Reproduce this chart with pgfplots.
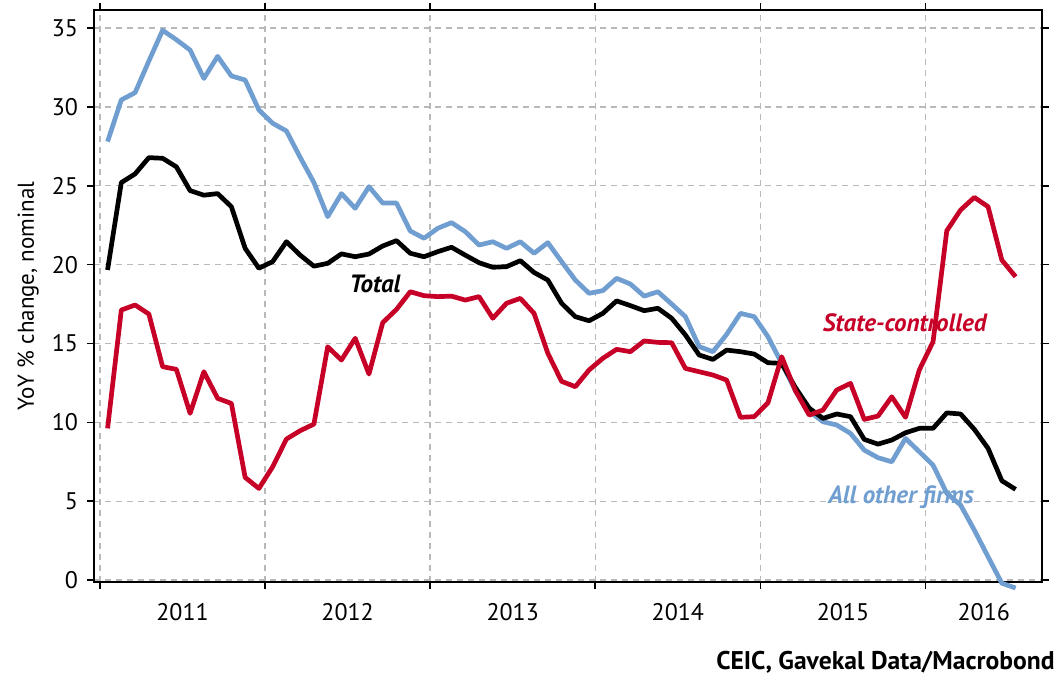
\documentclass[border=0pt]{standalone}
\usepackage{fontspec}
\setmainfont{PT Sans}
\usepackage{pgfplots}
\pgfplotsset{compat=1.18}
\usepackage{pgfplotstable}
\definecolor{cblue}{RGB}{112,158,208}
\definecolor{cred}{RGB}{198,0,38}
\definecolor{cgrid}{RGB}{185,185,185}

\pgfplotstableread{
x     other  total  state
0.55  27.80  19.66   9.62
1.55  30.44  25.20  17.12
2.55  30.90  25.75  17.44
3.55  32.90  26.78  16.87
4.55  34.85  26.74  13.53
5.55  34.26  26.20  13.36
6.55  33.60  24.69  10.57
7.55  31.80  24.40  13.21
8.55  33.20  24.50  11.52
9.55  31.96  23.67  11.20
10.55 31.70  21.03   6.51
11.55 29.80  19.77   5.81
12.55 28.96  20.19   7.18
13.55 28.47  21.45   8.94
14.55 26.80  20.60   9.47
15.55 25.20  19.90   9.89
16.55 23.04  20.08  14.79
17.55 24.50  20.68  13.95
18.55 23.57  20.50  15.33
19.55 24.94  20.67  13.06
20.55 23.90  21.18  16.32
21.55 23.90  21.52  17.16
22.55 22.13  20.72  18.28
23.55 21.67  20.50  18.03
24.55 22.30  20.82  17.97
25.55 22.66  21.10  18.00
26.55 22.09  20.60  17.75
27.55 21.24  20.12  17.97
28.55 21.45  19.83  16.60
29.55 21.03  19.87  17.55
30.55 21.45  20.25  17.86
31.55 20.72  19.50  16.91
32.55 21.39  19.02  14.38
33.55 20.19  17.55  12.60
34.55 19.02  16.70  12.26
35.55 18.18  16.44  13.32
36.55 18.35  16.91  14.06
37.55 19.13  17.70  14.63
38.55 18.77  17.40  14.48
39.55 18.00  17.08  15.16
40.55 18.28  17.23  15.07
41.55 17.50  16.60  15.05
42.55 16.70  15.54  13.42
43.55 14.80  14.27  13.21
44.55 14.48  13.99  13.00
45.55 15.58  14.58  12.68
46.55 16.91  14.48  10.32
47.55 16.70  14.33  10.36
48.55 15.43  13.78  11.24
49.55 13.74  13.74  14.16
50.55 12.00  12.20  12.00
51.55 10.70  10.90  10.46
52.55 10.04  10.25  10.78
53.55  9.83  10.53  12.05
54.55  9.30  10.36  12.47
55.55  8.24   8.92  10.19
56.55  7.76   8.62  10.40
57.55  7.50   8.88  11.62
58.55  8.98   9.34  10.32
59.55  8.14   9.62  13.32
60.55  7.29   9.62  15.11
61.55  5.50  10.60  22.15
62.55  4.76  10.53  23.46
63.55  3.17   9.56  24.26
64.55  1.48   8.35  23.67
65.55 -0.20   6.30  20.29
66.55 -0.50   5.75  19.23
}\data

\begin{document}
\begin{tikzpicture}
\path[use as bounding box] (-47pt,-46pt) rectangle (483pt,291pt);
\begin{axis}[
  at={(0pt,0pt)}, anchor=south west, scale only axis,
  width=474pt, height=286pt,
  xmin=-0.436, xmax=68.47, ymin=-0.12, ymax=36.14,
  clip=false,
  axis line style={line width=0.8pt, black},
  ytick={0,5,...,35},
  xtick={0,12,24,36,48,60},
  xticklabels={},
  xmajorgrids, ymajorgrids,
  grid style={cgrid, line width=0.7pt, dash pattern=on 3pt off 2.5pt},
  extra x ticks={6,18,30,42,54,64.24},
  extra x tick labels={2011,2012,2013,2014,2015,2016},
  extra x tick style={grid=none, major tick length=0pt, xticklabel style={yshift=-7pt}},
  tick align=outside,
  major tick length=3.5pt,
  tick style={line width=0.8pt, black},
  tick label style={font=\fontsize{12}{14}\selectfont},
  /pgf/number format/assume math mode=true,
  yticklabel style={xshift=-1pt},
  every axis plot/.append style={line width=2.35pt, line join=round},
]
\addplot[cblue, no markers] table[x=x, y=other] {\data};
\addplot[black, no markers] table[x=x, y=total] {\data};
\addplot[cred, no markers] table[x=x, y=state] {\data};
\node[font=\fontsize{12.5}{14}\selectfont\bfseries\itshape, black] at (axis cs:19.99,18.77) {Total};
\node[font=\fontsize{12.5}{14}\selectfont\bfseries\itshape, cred] at (axis cs:58.49,16.3) {State-controlled};
\node[font=\fontsize{12.5}{14}\selectfont\bfseries\itshape, cblue] at (axis cs:58.22,5.28) {All other firms};
\end{axis}
\node[rotate=90, font=\fontsize{11.5}{13}\selectfont] at (-33pt,143pt) {YoY \% change, nominal};
\node[anchor=east, inner sep=0pt, font=\fontsize{12.8}{14}\selectfont\bfseries] at (480.5pt,-40pt) {CEIC, Gavekal Data/Macrobond};
\end{tikzpicture}
\end{document}
